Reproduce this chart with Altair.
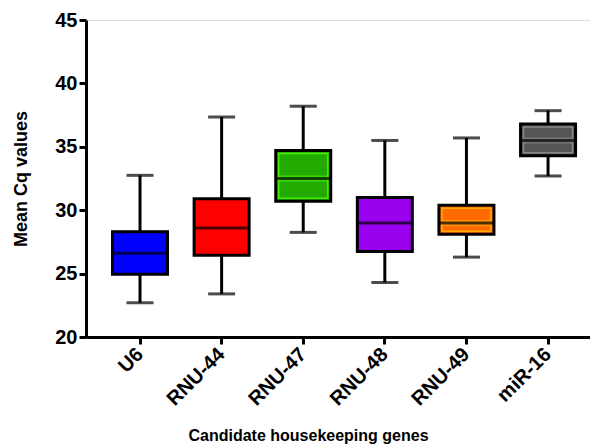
import altair as alt
import pandas as pd

genes = ["U6", "RNU-44", "RNU-47", "RNU-48", "RNU-49", "miR-16"]
lower = [22.7, 23.4, 28.25, 24.3, 26.3, 32.7]
q1 = [24.95, 26.45, 30.7, 26.75, 28.1, 34.3]
median = [26.6, 28.6, 32.5, 29.0, 29.0, 35.5]
q3 = [28.3, 30.9, 34.7, 31.0, 30.4, 36.8]
upper = [32.75, 37.35, 38.2, 35.5, 35.7, 37.85]
colors = ["#0000FF", "#FF0000", "#22AA00", "#9900EE", "#FF6A00", "#555555"]
inner = ["#0000FF", "#FF0000", "#44EE00", "#9900EE", "#FFAA00", "#888888"]

df = pd.DataFrame({"gene": genes, "lower": lower, "q1": q1, "median": median,
                   "q3": q3, "upper": upper, "color": colors, "inner": inner})

FONT = "Liberation Sans"

x = alt.X("gene:N", sort=genes, title="Candidate housekeeping genes",
          scale=alt.Scale(paddingInner=0, paddingOuter=0.088, align=0.92),
          axis=alt.Axis(labelAngle=-45, labelAlign="right", labelBaseline="middle",
                        labelFont=FONT, labelFontWeight="bold", labelFontSize=20,
                        labelColor="black", labelPadding=7,
                        titleFont=FONT, titleFontWeight="bold", titleFontSize=16,
                        titleColor="black", titlePadding=18, titleX=222,
                        domainColor="black", domainWidth=3, tickColor="black",
                        tickWidth=3, tickSize=7, grid=False))

yaxis = alt.Axis(values=[20, 25, 30, 35, 40, 45], labelFont=FONT, labelFontWeight="bold",
                 labelFontSize=20, labelColor="black", labelPadding=2,
                 titleFont=FONT, titleFontWeight="bold", titleFontSize=18,
                 titleColor="black", titlePadding=24,
                 domainColor="black", domainWidth=3, tickColor="black",
                 tickWidth=3, tickSize=7, grid=False)
yscale = alt.Scale(domain=[20, 45], nice=False, zero=False)

base = alt.Chart(df)

whisker = base.mark_rule(color="black", strokeWidth=3).encode(
    x=x,
    y=alt.Y("lower:Q", scale=yscale, axis=yaxis, title="Mean Cq values"),
    y2="upper:Q",
)

box = base.mark_bar(width=55, stroke="black", strokeWidth=3).encode(
    x=x,
    y=alt.Y("q1:Q", scale=yscale),
    y2="q3:Q",
    fill=alt.Fill("color:N", scale=None),
)

ring = base.mark_bar(width=49, yOffset=-3, y2Offset=3, fillOpacity=0,
                     strokeWidth=1.5).encode(
    x=x,
    y=alt.Y("q1:Q", scale=yscale),
    y2="q3:Q",
    stroke=alt.Stroke("inner:N", scale=None),
)

med_glow = base.mark_tick(size=49, thickness=6).encode(
    x=x, y=alt.Y("median:Q", scale=yscale), color=alt.Color("inner:N", scale=None))
med = base.mark_tick(color="black", size=55, thickness=3).encode(
    x=x, y=alt.Y("median:Q", scale=yscale))

cap_hi = base.mark_tick(color="black", size=27, thickness=3).encode(
    x=x, y=alt.Y("upper:Q", scale=yscale))
cap_lo = base.mark_tick(color="black", size=27, thickness=3).encode(
    x=x, y=alt.Y("lower:Q", scale=yscale))

chart = alt.layer(whisker, box, ring, med_glow, med, cap_hi, cap_lo).properties(
    width=504, height=317,
    autosize=alt.AutoSizeParams(type="none"),
    padding={"left": 78, "top": 12, "right": 0, "bottom": 110},
).configure_view(stroke=None).configure(background="white")

chart.save("out.html", embed_options={"renderer": "svg", "actions": False})
